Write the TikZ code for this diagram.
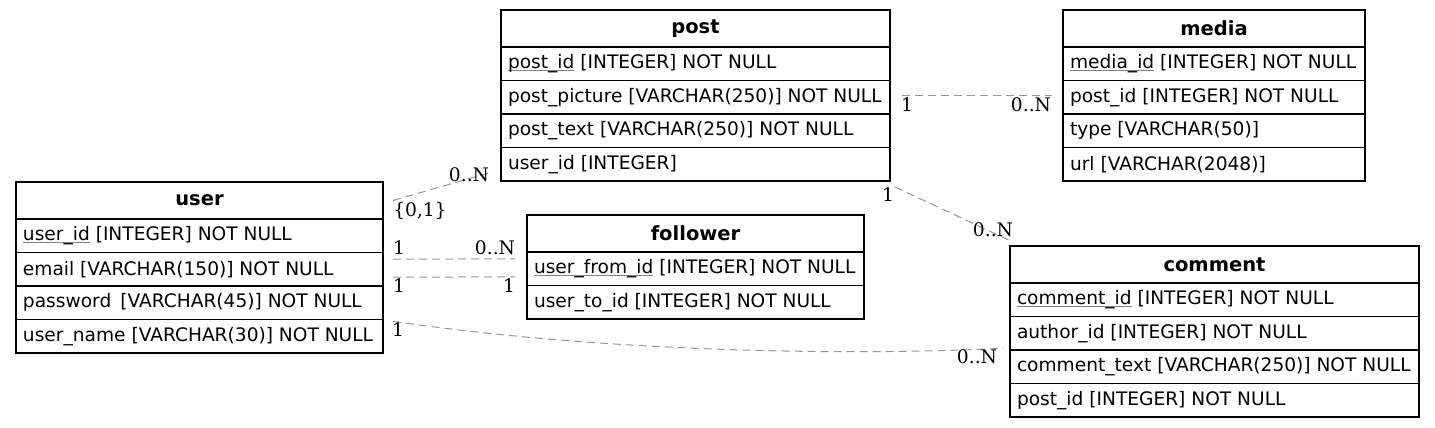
\documentclass[tikz,border=0pt]{standalone}
\usepackage{fontspec}
\newfontfamily\tsans{DejaVu Sans}
\newfontfamily\lblfont{DejaVu Serif}
\definecolor{edgecol}{RGB}{150,150,150}
\definecolor{ulgray}{RGB}{130,130,130}
\newsavebox\pkbox
\newcommand\pk[1]{\sbox\pkbox{#1}\rlap{\textcolor{ulgray}{\rule[-2.5pt]{\wd\pkbox}{1pt}}}\usebox\pkbox}
\newcommand\erow[4]{\node[erowsty, minimum width=#3pt] (#1) at (#2) {\makebox[\dimexpr#3pt-14pt\relax][l]{#4}};}
\tikzset{
  hdr/.style={draw, line width=1.1pt, outer sep=0pt, inner sep=0pt, minimum height=37pt,
    anchor=north west, font=\tsans\bfseries\fontsize{19.5}{22}\selectfont},
  erowsty/.style={draw, line width=1.1pt, outer sep=0pt, inner xsep=7pt, inner ysep=0pt,
    minimum height=33.5pt, anchor=north west, font=\tsans\fontsize{18.6}{22}\selectfont},
  rel/.style={draw=edgecol, line width=1pt, dash pattern=on 8pt off 5pt},
  lbl/.style={inner sep=0pt, font=\lblfont\fontsize{18.67}{22}\selectfont}
}
\begin{document}
\begin{tikzpicture}[x=1pt,y=-1pt]
\useasboundingbox (0,0) rectangle (1435,428);
% user
\node[hdr, minimum width=367pt] (user) at (16,182) {user};
\erow{user-1}{user.south west}{367}{\pk{user\_id} [INTEGER] NOT NULL}
\erow{user-2}{user-1.south west}{367}{email [VARCHAR(150)] NOT NULL}
\erow{user-3}{user-2.south west}{367}{password\ \,[VARCHAR(45)] NOT NULL}
\erow{user-4}{user-3.south west}{367}{user\_name [VARCHAR(30)] NOT NULL}
% post
\node[hdr, minimum width=389pt] (post) at (501,10) {post};
\erow{post-1}{post.south west}{389}{\pk{post\_id} [INTEGER] NOT NULL}
\erow{post-2}{post-1.south west}{389}{post\_picture [VARCHAR(250)] NOT NULL}
\erow{post-3}{post-2.south west}{389}{post\_text [VARCHAR(250)] NOT NULL}
\erow{post-4}{post-3.south west}{389}{user\_id [INTEGER]}
% media
\node[hdr, minimum width=302pt] (media) at (1063,10) {media};
\erow{media-1}{media.south west}{302}{\pk{media\_id} [INTEGER] NOT NULL}
\erow{media-2}{media-1.south west}{302}{post\_id [INTEGER] NOT NULL}
\erow{media-3}{media-2.south west}{302}{type [VARCHAR(50)]}
\erow{media-4}{media-3.south west}{302}{url [VARCHAR(2048)]}
% follower
\node[hdr, minimum width=337pt] (follower) at (527,215) {follower};
\erow{follower-1}{follower.south west}{337}{\pk{user\_from\_id} [INTEGER] NOT NULL}
\erow{follower-2}{follower-1.south west}{337}{user\_to\_id [INTEGER] NOT NULL}
% comment
\node[hdr, minimum width=409pt] (comment) at (1010,246) {comment};
\erow{comment-1}{comment.south west}{409}{\pk{comment\_id} [INTEGER] NOT NULL}
\erow{comment-2}{comment-1.south west}{409}{author\_id [INTEGER] NOT NULL}
\erow{comment-3}{comment-2.south west}{409}{comment\_text [VARCHAR(250)] NOT NULL}
\erow{comment-4}{comment-3.south west}{409}{post\_id [INTEGER] NOT NULL}
% connector end points
\coordinate (a1) at ([xshift=10pt]user.east);
\coordinate (a2) at ([xshift=-8pt,yshift=-7.5pt]post-4.west);
\coordinate (b1) at ([xshift=10pt,yshift=10pt]user-2.east);
\coordinate (b2) at ([xshift=-12pt,yshift=10pt]follower-1.west);
\coordinate (c1) at ([xshift=10pt,yshift=-8pt]user-2.east);
\coordinate (c2) at ([xshift=-12pt,yshift=-8pt]follower-1.west);
\coordinate (d1) at ([xshift=10pt,yshift=15pt]user-4.east);
\coordinate (d2) at ([xshift=-7pt,yshift=-15pt]comment-2.west);
\coordinate (e1) at ([xshift=12pt,yshift=1.75pt]post-2.east);
\coordinate (e2) at ([xshift=-11pt,yshift=1.75pt]media-2.west);
\coordinate (f1) at ([xshift=5pt,yshift=-6pt]post-4.south east);
\coordinate (f2) at ([xshift=3pt,yshift=4pt]comment.north west);
% connectors
\draw[rel] (a1) -- (a2);
\draw[rel] (b1) -- (b2);
\draw[rel] (c1) -- (c2);
\draw[rel] (d1) .. controls (600,352) and (850,356) .. (d2);
\draw[rel] (e1) -- (e2);
\draw[rel] (f1) -- (f2);
% labels
\node[lbl] (l1) at (469,175) {0..N};
\node[lbl] (l2) at (420,211) {\{0,1\}};
\node[lbl] (l3) at (399,248) {1};
\node[lbl] (l4) at (495,248) {0..N};
\node[lbl] (l5) at (399,286) {1};
\node[lbl] (l6) at (509,286) {1};
\node[lbl] (l7) at (398,330) {1};
\node[lbl] (l8) at (977,357) {0..N};
\node[lbl] (l9) at (907,105) {1};
\node[lbl] (l10) at (1031,105) {0..N};
\node[lbl] (l11) at (888,195) {1};
\node[lbl] (l12) at (993,230) {0..N};
\end{tikzpicture}
\end{document}
